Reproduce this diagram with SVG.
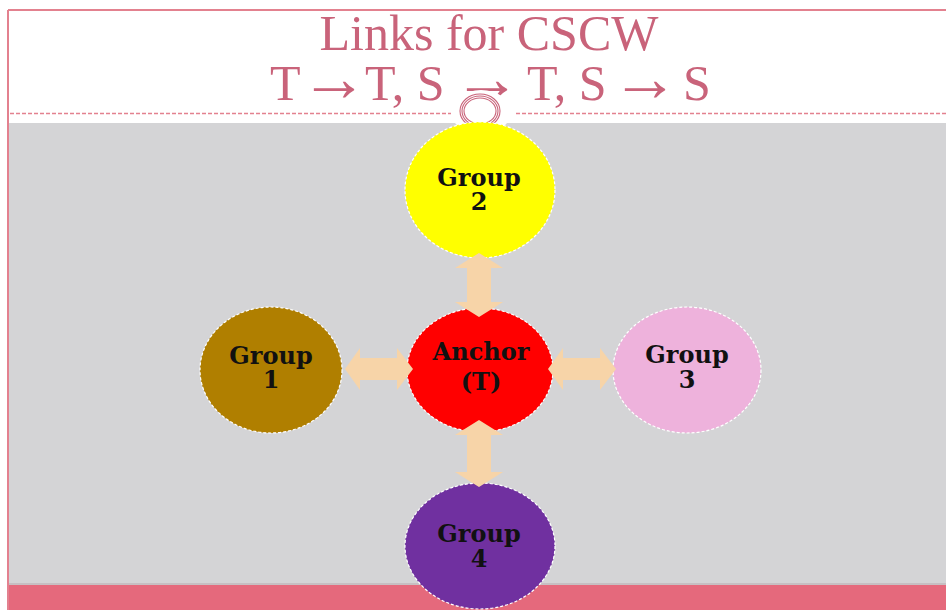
<svg xmlns="http://www.w3.org/2000/svg" width="946" height="610" viewBox="0 0 946 610">
<style>
.title{font-family:"Liberation Serif","DejaVu Serif",serif;font-size:50px;fill:#C9637A;text-anchor:middle}
.st{text-anchor:start}
.ar{font-size:68px}
.node{stroke:#FFFFFF;stroke-width:1.2;stroke-dasharray:3 2}
.lbl{font-family:"DejaVu Serif","Liberation Serif",serif;font-weight:bold;font-size:24px;fill:#111111;text-anchor:middle}
.arrow{fill:#F7D4A8}
.ring{fill:none;stroke:#C9637A;stroke-width:1.1}
</style>
<rect x="0" y="0" width="946" height="610" fill="#FFFFFF"/>
<g id="frame">
<rect x="9" y="123" width="937" height="462" fill="#D4D4D6"/>
<line x1="9" y1="584" x2="946" y2="584" stroke="#B9A9AE" stroke-width="1"/>
<rect x="9" y="585" width="937" height="25" fill="#E5697C"/>
<line x1="8" y1="10" x2="946" y2="10" stroke="#E3818F" stroke-width="2"/>
<line x1="8" y1="10" x2="8" y2="610" stroke="#E3818F" stroke-width="2"/>
<line x1="10" y1="113.5" x2="451" y2="113.5" stroke="#E3818F" stroke-width="1.3" stroke-dasharray="4 2"/>
<line x1="516" y1="113.5" x2="946" y2="113.5" stroke="#E3818F" stroke-width="1.3" stroke-dasharray="4 2"/>
</g>
<g id="title">
<text class="title" x="489" y="50">Links for CSCW</text>
<text class="title st" y="100"><tspan x="270" y="100">T</tspan><tspan class="ar" x="300" y="101">→</tspan><tspan x="365" y="100">T, S</tspan><tspan class="ar" x="453" y="101">→</tspan><tspan x="527" y="100">T, S</tspan><tspan class="ar" x="611" y="101">→</tspan><tspan x="683" y="100">S</tspan></text>
</g>
<g id="ornament">
<ellipse cx="481" cy="112" rx="30" ry="22" fill="#FFFFFF"/>
<ellipse class="ring" cx="480" cy="111" rx="20" ry="17"/>
<ellipse class="ring" cx="480" cy="111" rx="18" ry="15"/>
<ellipse class="ring" cx="480" cy="111" rx="16" ry="13"/>
</g>
<g id="group2">
<ellipse class="node" cx="480" cy="190" rx="75" ry="68" fill="#FFFF00"/>
<text class="lbl" x="479" y="186">Group</text>
<text class="lbl" x="479" y="210">2</text>
</g>
<g id="group1">
<ellipse class="node" cx="271" cy="370" rx="71" ry="63" fill="#B07F00"/>
<text class="lbl" x="271" y="364">Group</text>
<text class="lbl" x="271" y="388">1</text>
</g>
<g id="anchor">
<ellipse class="node" cx="480" cy="370" rx="73" ry="62" fill="#FF0000"/>
<text class="lbl" x="481" y="360">Anchor</text>
<text class="lbl" x="481" y="390">(T)</text>
</g>
<g id="group3">
<ellipse class="node" cx="687" cy="370" rx="74" ry="63" fill="#EEB2DC"/>
<text class="lbl" x="687" y="363">Group</text>
<text class="lbl" x="687" y="388">3</text>
</g>
<g id="group4">
<ellipse class="node" cx="480" cy="546" rx="75" ry="63" fill="#7030A0"/>
<text class="lbl" x="479" y="542">Group</text>
<text class="lbl" x="479" y="567">4</text>
</g>
<g id="connectors">
<path class="arrow" d="M479,253 L503,268 L491,268 L491,302 L503,302 L479,317 L455,302 L467,302 L467,268 L455,268 Z"/>
<path class="arrow" d="M479,420 L503,435 L491,435 L491,472 L503,472 L479,487 L455,472 L467,472 L467,435 L455,435 Z"/>
<path class="arrow" d="M345,369 L360,348 L360,358 L397,358 L397,348 L413,369 L397,390 L397,380 L360,380 L360,390 Z"/>
<path class="arrow" d="M548,369 L563,348 L563,358 L600,358 L600,348 L616,369 L600,390 L600,380 L563,380 L563,390 Z"/>
</g>
</svg>
